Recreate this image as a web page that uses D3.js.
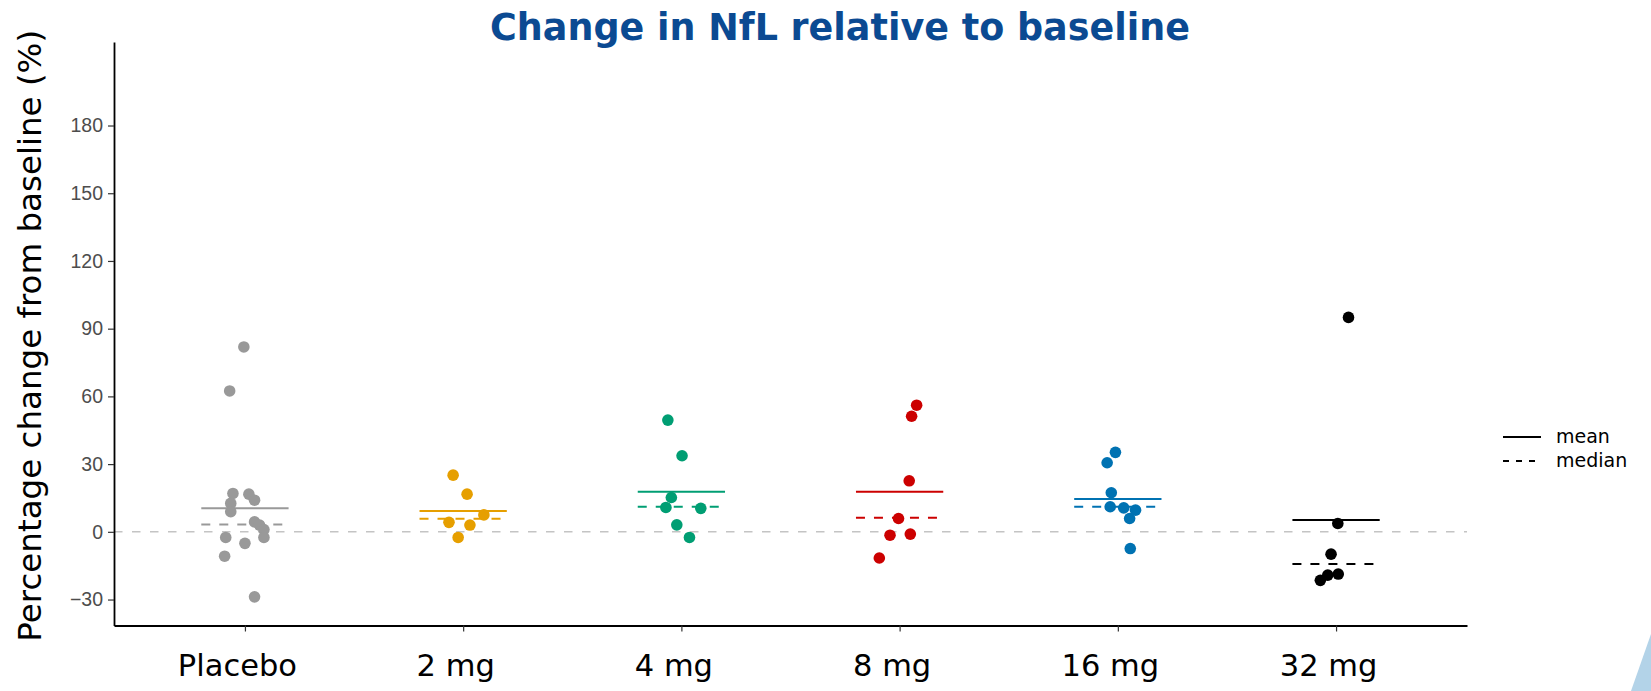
<!DOCTYPE html>
<html>
<head>
<meta charset="utf-8">
<script src="https://cdn.jsdelivr.net/npm/d3@7"></script>
<style>
  html, body { margin: 0; padding: 0; background: #ffffff; }
  svg { display: block; }
</style>
</head>
<body>
<svg id="chart" width="1651" height="691"></svg>
<script>
// ---------- data ----------
const categories = ["Placebo", "2 mg", "4 mg", "8 mg", "16 mg", "32 mg"];
const yTicks = [-30, 0, 30, 60, 90, 120, 150, 180];

// individual % change values per group
const placeboValues = [81.9, 62.4, 17.0, 16.7, 14.0, 12.6, 8.9, 4.4, 3.0, 1.0, -2.5, -2.5, -5.1, -10.8, -28.8];
const mg2Values     = [25.1, 16.7, 7.5, 4.2, 3.0, -2.5];
const mg4Values     = [49.5, 33.7, 15.2, 10.8, 10.4, 3.1, -2.5];
const mg8Values     = [56.1, 51.2, 22.6, 5.9, -1.5, -1.0, -11.6];
const mg16Values    = [35.2, 30.6, 17.3, 11.1, 10.6, 9.6, 5.9, -7.4];
const mg32Values    = [95.0, 3.7, -9.9, -18.7, -19.2, -21.5];

// horizontal jitter of each point, in category units
const placeboJitter = [-0.005, -0.07, -0.055, 0.018, 0.044, -0.065, -0.065, 0.044, 0.067, 0.087, 0.087, -0.088, 0.0, -0.093, 0.044];
const mg2Jitter     = [-0.046, 0.018, 0.095, -0.065, 0.031, -0.023];
const mg4Jitter     = [-0.062, 0.003, -0.046, -0.071, 0.089, -0.021, 0.037];
const mg8Jitter     = [0.078, 0.055, 0.044, -0.005, -0.044, 0.049, -0.093];
const mg16Jitter    = [-0.011, -0.049, -0.03, -0.035, 0.027, 0.081, 0.054, 0.057];
const mg32Jitter    = [0.057, 0.008, -0.023, 0.01, -0.038, -0.072];

// summary lines per group
const meanValues   = [10.4, 9.2, 17.7, 17.7, 14.5, 5.2];
const medianValues = [3.3, 5.8, 11.1, 6.2, 11.1, -14.3];

const legendLabels = ["mean", "median"];

// ---------- styles ----------
const groupColors = ["#999999", "#E69F00", "#009E73", "#CC0000", "#0072B2", "#000000"];
const allValues = [placeboValues, mg2Values, mg4Values, mg8Values, mg16Values, mg32Values];
const allJitter = [placeboJitter, mg2Jitter, mg4Jitter, mg8Jitter, mg16Jitter, mg32Jitter];

const svg = d3.select("#chart");
const W = 1651, H = 691;
const plotLeft = 114, plotRight = 1467, plotTop = 42, plotBottom = 625.5;

const x = d3.scalePoint().domain(categories).range([plotLeft, plotRight]).padding(0.6);
const y = d3.scaleLinear().domain([-41.5, 217]).range([plotBottom, plotTop]);
const step = x.step();
const halfWidth = 0.2; // category units

// title
svg.append("text")
  .attr("x", 840).attr("y", 40)
  .attr("text-anchor", "middle")
  .attr("font-family", "DejaVu Sans, Verdana, sans-serif")
  .attr("font-weight", "bold")
  .attr("font-size", 36.5)
  .attr("fill", "#0B4A92")
  .text("Change in NfL relative to baseline");

// y-axis title
svg.append("text")
  .attr("transform", `translate(41, ${(plotTop + plotBottom) / 2 + 2}) rotate(-90)`)
  .attr("text-anchor", "middle")
  .attr("font-family", "DejaVu Sans, Verdana, sans-serif")
  .attr("font-size", 32.5)
  .attr("fill", "#000")
  .text("Percentage change from baseline (%)");

// zero reference line
svg.append("line")
  .attr("x1", plotLeft).attr("x2", plotRight)
  .attr("y1", y(0)).attr("y2", y(0))
  .attr("stroke", "#c4c4c4").attr("stroke-width", 1.6)
  .attr("stroke-dasharray", "8.5,9.5");

// y axis
const yAxis = svg.append("g")
  .attr("transform", `translate(${plotLeft},0)`)
  .call(d3.axisLeft(y).tickValues(yTicks).tickSize(6).tickPadding(5).tickSizeOuter(0));
yAxis.select(".domain").attr("stroke", "#000").attr("stroke-width", 1.8);
yAxis.selectAll(".tick line").attr("stroke", "#333").attr("stroke-width", 1.2);
yAxis.selectAll(".tick text")
  .attr("font-family", "Liberation Sans, Arial, sans-serif")
  .attr("font-size", 19.5)
  .attr("fill", "#4d4d4d");

// x axis
const xAxis = svg.append("g")
  .attr("transform", `translate(0,${plotBottom})`)
  .call(d3.axisBottom(x).tickSize(6).tickPadding(23).tickSizeOuter(0));
xAxis.select(".domain").attr("stroke", "#000").attr("stroke-width", 1.8);
xAxis.selectAll(".tick line").attr("stroke", "#333").attr("stroke-width", 1.2);
xAxis.selectAll(".tick text")
  .attr("font-family", "DejaVu Sans, Verdana, sans-serif")
  .attr("font-size", 30.5)
  .attr("dx", -8)
  .attr("fill", "#000");

// mean & median lines
const lines = svg.append("g");
categories.forEach((c, i) => {
  const cx = x(c);
  lines.append("line")
    .attr("x1", cx - halfWidth * step).attr("x2", cx + halfWidth * step)
    .attr("y1", y(meanValues[i])).attr("y2", y(meanValues[i]))
    .attr("stroke", groupColors[i]).attr("stroke-width", 2);
  lines.append("line")
    .attr("x1", cx - halfWidth * step).attr("x2", cx + halfWidth * step)
    .attr("y1", y(medianValues[i])).attr("y2", y(medianValues[i]))
    .attr("stroke", groupColors[i]).attr("stroke-width", 2)
    .attr("stroke-dasharray", "9,9");
});

// points
const pts = svg.append("g");
categories.forEach((c, i) => {
  const data = allValues[i].map((v, k) => ({ v, j: allJitter[i][k] }));
  pts.selectAll(null).data(data).enter().append("circle")
    .attr("cx", d => x(c) + d.j * step)
    .attr("cy", d => y(d.v))
    .attr("r", 5.8)
    .attr("fill", groupColors[i]);
});

// legend
const leg = svg.append("g").attr("transform", "translate(1503, 437)");
legendLabels.forEach((lab, i) => {
  leg.append("line")
    .attr("x1", 0).attr("x2", 38)
    .attr("y1", i * 24).attr("y2", i * 24)
    .attr("stroke", "#000").attr("stroke-width", 2)
    .attr("stroke-dasharray", i === 1 ? "6,7" : null);
  leg.append("text")
    .attr("x", 53).attr("y", i * 24 + 6)
    .attr("font-family", "DejaVu Sans, Verdana, sans-serif")
    .attr("font-size", 19)
    .attr("fill", "#000")
    .text(lab);
});

// slide-template corner decoration
svg.append("polygon")
  .attr("points", `1631,${H} ${W},634 ${W},${H}`)
  .attr("fill", "#b3d3e8");
</script>
</body>
</html>
